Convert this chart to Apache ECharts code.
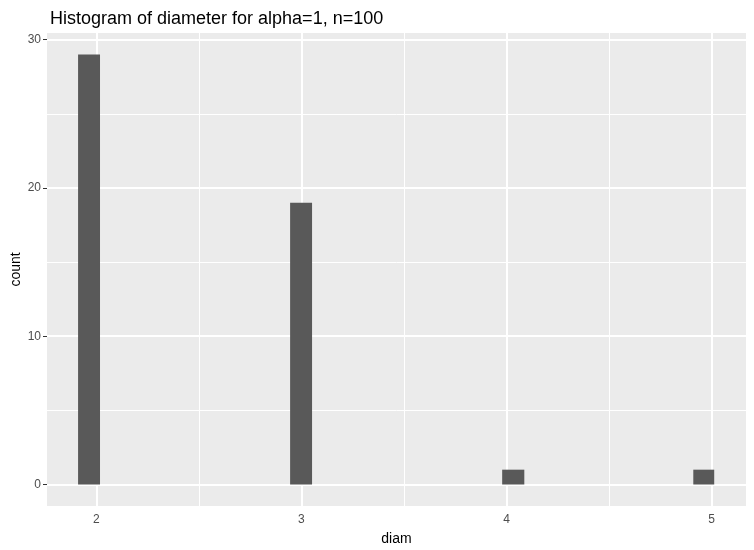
<!DOCTYPE html>
<html>
<head>
<meta charset="utf-8">
<script src="https://cdn.jsdelivr.net/npm/echarts@6/dist/echarts.min.js"></script>
<style>
  html, body { margin: 0; padding: 0; background: #fff; }
  #chart { width: 754px; height: 550px; }
</style>
</head>
<body>
<div id="chart"></div>
<script>
// histogram bins (diam)
var binStart = [1.911, 2.945, 3.979, 4.911];
var binEnd = [2.018, 3.052, 4.087, 5.013];
var counts = [29, 19, 1, 1];
// axes
var xTicks = [2, 3, 4, 5];
var xMinor = [2.5, 3.5, 4.5];
var yTicks = [0, 10, 20, 30];
var yMinor = [5, 15, 25];

var myChart = echarts.init(document.getElementById('chart'));

var bins = [];
for (var i = 0; i < counts.length; i++) {
    bins.push([binStart[i], binEnd[i], counts[i]]);
}

// panel grid lines, ggplot style
var gridLines = [];
xMinor.forEach(function (v) { gridLines.push({ xAxis: v, lineStyle: { width: 1 } }); });
yMinor.forEach(function (v) { gridLines.push({ yAxis: v, lineStyle: { width: 1 } }); });
xTicks.forEach(function (v) { gridLines.push({ xAxis: v, lineStyle: { width: 2 } }); });
yTicks.forEach(function (v) { gridLines.push({ yAxis: v, lineStyle: { width: 2 } }); });

var font = 'Liberation Sans, Arial, sans-serif';

var option = {
    animation: false,
    title: {
        text: 'Histogram of diameter for alpha=1, n=100',
        left: 45,
        top: 5,
        textStyle: { fontFamily: font, fontSize: 18, fontWeight: 'normal', color: '#000' }
    },
    grid: {
        left: 47, right: 8, top: 33, bottom: 44,
        outerBoundsMode: 'none',
        containLabel: false,
        show: true, backgroundColor: '#EBEBEB', borderWidth: 0
    },
    xAxis: {
        type: 'value',
        min: 1.7595,
        max: 5.168,
        name: 'diam',
        nameLocation: 'middle',
        nameGap: 26,
        nameMoveOverlap: false,
        nameTextStyle: { fontFamily: font, fontSize: 14, color: '#000' },
        axisLine: { show: false },
        splitLine: { show: false },
        axisTick: { show: true, length: 4, customValues: xTicks, lineStyle: { color: '#333', width: 1 } },
        axisLabel: { customValues: xTicks, margin: 8, fontFamily: font, fontSize: 12, color: '#4D4D4D' }
    },
    yAxis: {
        type: 'value',
        min: -1.45,
        max: 30.45,
        name: 'count',
        nameLocation: 'middle',
        nameRotate: 90,
        nameGap: 24,
        nameMoveOverlap: false,
        nameTextStyle: { fontFamily: font, fontSize: 14, color: '#000' },
        axisLine: { show: false },
        splitLine: { show: false },
        axisTick: { show: true, length: 4, customValues: yTicks, lineStyle: { color: '#333', width: 1 } },
        axisLabel: { customValues: yTicks, margin: 6, fontFamily: font, fontSize: 12, color: '#4D4D4D' }
    },
    series: [{
        type: 'line',
        data: [],
        z: 1,
        markLine: {
            silent: true,
            z: 1,
            symbol: 'none',
            animation: false,
            label: { show: false },
            lineStyle: { color: '#FFFFFF', type: 'solid' },
            data: gridLines
        }
    }, {
        type: 'custom',
        z: 10,
        data: bins,
        renderItem: function (params, api) {
            var p0 = api.coord([api.value(0), api.value(2)]);
            var p1 = api.coord([api.value(1), 0]);
            return {
                type: 'rect',
                shape: { x: p0[0], y: p0[1], width: p1[0] - p0[0], height: p1[1] - p0[1] },
                style: { fill: '#595959' }
            };
        },
        encode: { x: [0, 1], y: 2 }
    }]
};
myChart.setOption(option);
</script>
</body>
</html>
